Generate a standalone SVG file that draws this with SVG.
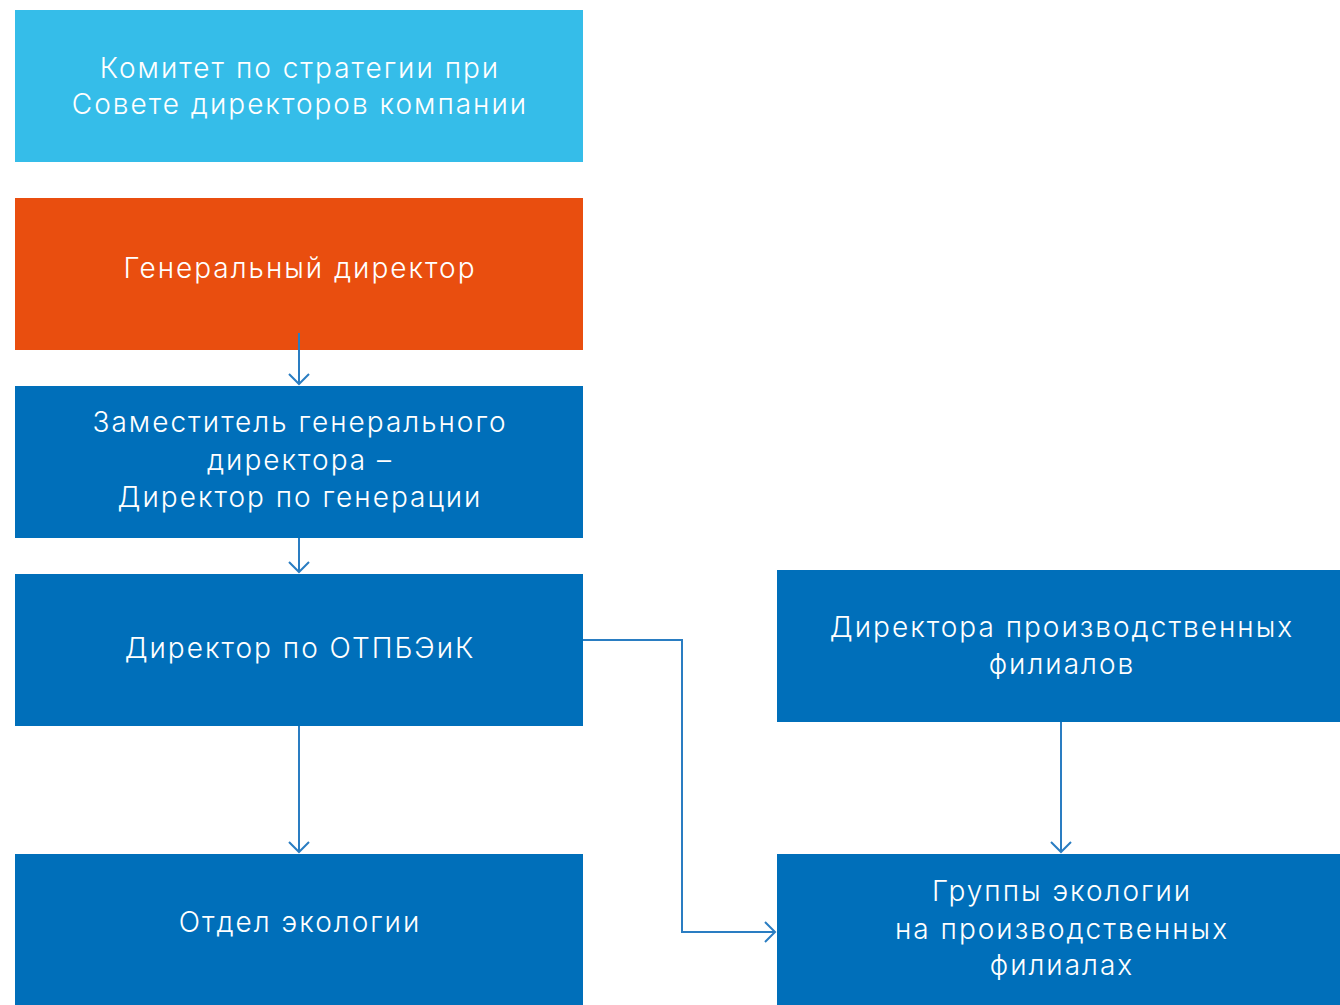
<svg xmlns="http://www.w3.org/2000/svg" width="1340" height="1005" viewBox="0 0 1340 1005">
  <style>
    .box { stroke: none; }
    .cyan { fill: #35BDE9; }
    .orange { fill: #E94E0F; }
    .blue { fill: #006FBA; }
    .label { font-family: Inter, Roboto, "Liberation Sans", sans-serif; font-weight: 300; font-size: 28px; letter-spacing: 2px; fill: #FFFFFF; text-anchor: middle; }
    .conn { fill: none; stroke: #2A7DC2; stroke-width: 2; }
  </style>
  <defs>
    <marker id="arrow" markerUnits="userSpaceOnUse" markerWidth="24" markerHeight="24" viewBox="-12 -12 24 24" refX="0" refY="0" orient="auto">
      <path d="M-10,-10 L0,0 L-10,10" fill="none" stroke="#2A7DC2" stroke-width="2"/>
    </marker>
  </defs>
  <rect width="1340" height="1005" fill="#FFFFFF"/>

  <g id="committee">
    <rect class="box cyan" x="15" y="10" width="568" height="152"/>
    <text class="label" x="300" y="78">Комитет по стратегии при</text>
    <text class="label" x="300" y="114">Совете директоров компании</text>
  </g>

  <g id="ceo">
    <rect class="box orange" x="15" y="198" width="568" height="152"/>
    <text class="label" x="300" y="278">Генеральный директор</text>
  </g>

  <g id="deputy">
    <rect class="box blue" x="15" y="386" width="568" height="152"/>
    <text class="label" x="300" y="432">Заместитель генерального</text>
    <text class="label" x="300" y="470">директора –</text>
    <text class="label" x="300" y="507">Директор по генерации</text>
  </g>

  <g id="director-otpbeik">
    <rect class="box blue" x="15" y="574" width="568" height="152"/>
    <text class="label" x="300" y="658">Директор по ОТПБЭиК</text>
  </g>

  <g id="ecology-dept">
    <rect class="box blue" x="15" y="854" width="568" height="151"/>
    <text class="label" x="300" y="932">Отдел экологии</text>
  </g>

  <g id="branch-directors">
    <rect class="box blue" x="777" y="570" width="563" height="152"/>
    <text class="label" x="1062" y="637">Директора производственных</text>
    <text class="label" x="1062" y="674">филиалов</text>
  </g>

  <g id="branch-ecology">
    <rect class="box blue" x="777" y="854" width="563" height="151"/>
    <text class="label" x="1062" y="901">Группы экологии</text>
    <text class="label" x="1062" y="939">на производственных</text>
    <text class="label" x="1062" y="975">филиалах</text>
  </g>

  <g id="connectors">
    <path class="conn" d="M299,333 V384" marker-end="url(#arrow)"/>
    <path class="conn" d="M299,538 V572" marker-end="url(#arrow)"/>
    <path class="conn" d="M299,726 V852" marker-end="url(#arrow)"/>
    <path class="conn" d="M1061,722 V852" marker-end="url(#arrow)"/>
    <path class="conn" d="M583,640 H682 V932 H775" marker-end="url(#arrow)"/>
  </g>
</svg>
